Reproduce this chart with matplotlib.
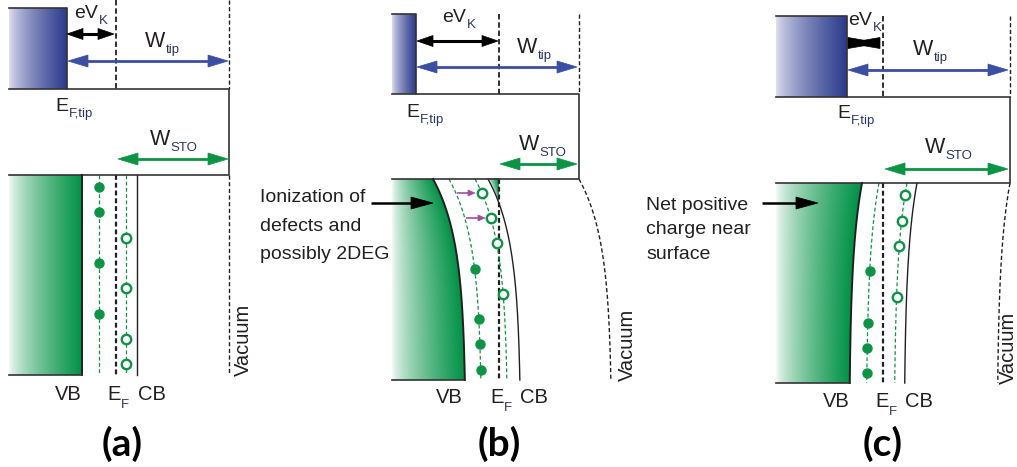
import numpy as np
import matplotlib.pyplot as plt
from matplotlib.patches import Polygon

plt.rcParams['font.family'] = ['Liberation Sans', 'DejaVu Sans']

W, H = 1017, 467

# --- schematic values (pixel units of the drawing) ---
panel_tags = ['(a)', '(b)', '(c)']
bend = [0, -33, 13]            # surface band bending of each panel
bend_len = [60, 60, 70]        # decay length of the bending
filled_y = [[187, 212, 263, 314], [269, 319, 344, 370], [271, 323, 348, 373]]
open_y = [[238, 288, 339, 364], [193, 218, 243, 294], [195, 221, 246, 297]]
side_notes = [None, ['Ionization of', 'defects and', 'possibly 2DEG'],
              ['Net positive', 'charge near', 'surface']]

# --- layout of the three panels ---
geo = [
    dict(x0=9, tip=67, top=8, dtop=0, gtop=89, gbot=175, vac=229, ef=116, bot=375,
         vb=82, fd=99, od=126, cb=137, vacb=229,
         evk=(74, 18), wtip=(145, 47), eft=(55, 111), wsto=(150, 145),
         arr_k=(67, 114, 34), arr_t=(68, 228, 61), arr_s=(118, 228, 159),
         lab_y=400, lab_x=(55, 107, 138), vacx=(243, 376), tag=(122, 444)),
    dict(x0=392, tip=416, top=14, dtop=14, gtop=94, gbot=179, vac=579, ef=499, bot=380,
         vb=466, fd=482, od=508, cb=521, vacb=612,
         evk=(442, 22), wtip=(517, 53), eft=(406, 117), wsto=(519, 150),
         arr_k=(417, 498, 41), arr_t=(417, 577, 67), arr_s=(500, 577, 164),
         lab_y=403, lab_x=(436, 490, 520), vacx=(627, 381), tag=(499, 444),
         note=(260, [202, 231, 259]), note_arr=(371, 433, 203)),
    dict(x0=776, tip=847, top=16, dtop=16, gtop=97, gbot=183, vac=1010, ef=883, bot=383,
         vb=849, fd=866, od=894, cb=904, vacb=997,
         evk=(848, 25), wtip=(913, 55), eft=(837, 118), wsto=(925, 153),
         arr_k=(848, 880, 43), arr_t=(848, 1008, 70), arr_s=(885, 1008, 169),
         lab_y=407, lab_x=(823, 875, 905), vacx=(1008, 384), tag=(883, 444),
         note=(646, [210, 234, 259]), note_arr=(762, 818, 203)),
]

INK = '#231f20'
BLUE = '#3a4ea3'
GREEN = '#0b9444'
TIP_DARK = np.array([43, 58, 140]) / 255
TIP_LIGHT = np.array([228, 228, 242]) / 255
VB_DARK = np.array([0, 146, 69]) / 255
VB_LIGHT = np.array([250, 252, 250]) / 255

fig = plt.figure(figsize=(W / 100, H / 100), dpi=100)
ax = fig.add_axes([0, 0, 1, 1])
ax.set_xlim(0, W)
ax.set_ylim(H, 0)
ax.axis('off')
renderer = fig.canvas.get_renderer()


def band(g, k, bulk, y):
    return bulk + bend[k] * np.exp(-(np.asarray(y, float) - g['gbot']) / bend_len[k])


def gradient(left, right, y0, y1, light, dark, power=0.7):
    # horizontal colour ramp between left(y) and right(y), row by row
    ys = np.arange(y0, y1, 0.5) + 0.25
    xa = min(np.min(left(ys)), np.min(right(ys)))
    xb = max(np.max(left(ys)), np.max(right(ys)))
    xs = np.arange(xa, xb, 0.5) + 0.25
    X, Y = np.meshgrid(xs, ys)
    L, R = left(Y), right(Y)
    t = np.clip((X - L) / np.maximum(R - L, 1e-6), 0, 1) ** power
    img = np.zeros(X.shape + (4,))
    img[..., :3] = light * (1 - t[..., None]) + dark * t[..., None]
    img[..., 3] = ((X >= L) & (X <= R)).astype(float)
    ax.imshow(img, extent=(xa, xb, y1, y0), origin='upper', interpolation='bilinear',
              zorder=1, aspect='auto')


def darrow(x0, x1, y, color, lw=1.9, hl=18, hw=5, both=True):
    # arrow with triangular heads, sizes in drawing pixels
    a = x0 + (hl * 0.8 if both else 0)
    b = x1 - hl * 0.8
    if b > a:
        ax.plot([a, b], [y, y], color=color, lw=lw, solid_capstyle='butt', zorder=5)
    heads = [[(x1, y), (x1 - hl, y - hw), (x1 - hl, y + hw)]]
    if both:
        heads.append([(x0, y), (x0 + hl, y - hw), (x0 + hl, y + hw)])
    for pts in heads:
        ax.add_patch(Polygon(pts, closed=True, facecolor=color, edgecolor=color,
                             lw=0.5, zorder=5))


def sub_label(x, y, main, sub, size=14, subsize=9.5, drop=6):
    t = ax.text(x, y, main, fontsize=size, ha='left', va='baseline', color=INK, zorder=6)
    bb = t.get_window_extent(renderer)
    xe = ax.transData.inverted().transform((bb.x1, bb.y0))[0]
    ax.text(xe + 0.5, y + drop, sub, fontsize=subsize, ha='left', va='baseline',
            color='#2c3560', zorder=6)


for k, g in enumerate(geo):
    ys = np.linspace(g['gbot'], g['bot'], 200)

    # tip block
    gradient(lambda y: np.full_like(y, g['x0']), lambda y: np.full_like(y, g['tip']),
             g['top'], g['gtop'], TIP_LIGHT, TIP_DARK)
    ax.plot([g['x0'], g['tip'], g['tip']], [g['top'], g['top'], g['gtop']],
            color='#333333', lw=1.2, zorder=4)

    # gap box
    ax.plot([g['x0'], g['vac'], g['vac'], g['x0']],
            [g['gtop'], g['gtop'], g['gbot'], g['gbot']], color='#333333', lw=1.2, zorder=4)

    # dashed lines above the gap
    ax.plot([g['ef'], g['ef']], [g['dtop'], g['gtop']], color=INK, lw=1.3,
            ls=(0, (3, 1.6)), zorder=3)
    ax.plot([g['vac'], g['vac']], [g['dtop'], g['gtop']], color=INK, lw=1.0,
            ls=(0, (3, 1.8)), zorder=3)

    # valence band block
    vb_edge = lambda y, g=g, k=k: band(g, k, g['vb'], y)
    gradient(lambda y, g=g: np.full_like(y, g['x0']), vb_edge, g['gbot'], g['bot'],
             VB_LIGHT, VB_DARK)
    ax.plot(vb_edge(ys), ys, color=INK, lw=1.4, zorder=4)
    ax.plot([g['x0'], vb_edge(g['bot'])], [g['bot'], g['bot']], color='#333333', lw=1.2,
            zorder=4)

    # 2DEG pocket where the conduction band dips below E_F
    if bend[k] < 0:
        yy = np.linspace(g['gbot'], g['bot'], 400)
        cross = yy[band(g, k, g['cb'], yy) < g['ef']]
        if cross.size:
            gradient(lambda y, g=g, k=k: band(g, k, g['cb'], y),
                     lambda y, g=g: np.full_like(y, g['ef']),
                     g['gbot'], cross.max(), VB_LIGHT, VB_DARK, power=0.6)

    # Fermi level and conduction band
    ax.plot([g['ef'], g['ef']], [g['gbot'], g['bot']], color=INK, lw=1.6,
            ls=(0, (2.2, 1.3)), zorder=3)
    ax.plot(band(g, k, g['cb'], ys), ys, color=INK, lw=1.0, zorder=3)
    ax.plot(band(g, k, g['vacb'], ys), ys, color=INK, lw=1.0, ls=(0, (3, 1.8)), zorder=3)

    # defect levels: occupied (filled) and ionised (open)
    ax.plot(band(g, k, g['fd'], ys), ys, color=GREEN, lw=0.9, ls=(0, (3, 2)), zorder=3)
    ax.plot(band(g, k, g['od'], ys), ys, color=GREEN, lw=0.9, ls=(0, (3, 2)), zorder=3)
    fy = np.array(filled_y[k])
    oy = np.array(open_y[k])
    ax.plot(band(g, k, g['fd'], fy), fy, 'o', ms=6.5, color=GREEN, mec=GREEN, zorder=5)
    ax.plot(band(g, k, g['od'], oy), oy, 'o', ms=6.8, mfc='white', mec=GREEN, mew=1.7,
            zorder=5)

    # energy arrows; a very short eV_K gives overlapping heads (bow-tie)
    kx0, kx1, ky = g['arr_k']
    span = kx1 - kx0
    darrow(kx0, kx1, ky, color='black', lw=2.2, hl=span if span < 40 else 16, hw=5.5)
    darrow(*g['arr_t'], color=BLUE, lw=2.0, hl=20, hw=6)
    darrow(*g['arr_s'], color=GREEN, lw=2.0, hl=20, hw=6)

    # labels
    sub_label(*g['evk'], 'eV', 'K')
    sub_label(*g['wtip'], 'W', 'tip', size=15.5)
    sub_label(*g['eft'], 'E', 'F,tip')
    sub_label(*g['wsto'], 'W', 'STO', size=15.5)
    lx = g['lab_x']
    ax.text(lx[0], g['lab_y'], 'VB', fontsize=14.5, ha='left', va='baseline', color=INK)
    sub_label(lx[1], g['lab_y'], 'E', 'F', size=14.5, drop=8)
    ax.text(lx[2], g['lab_y'], 'CB', fontsize=14.5, ha='left', va='baseline', color=INK)
    ax.text(*g['vacx'], 'Vacuum', fontsize=14.5, rotation=90, ha='center', va='bottom',
            color=INK)

    if side_notes[k]:
        nx, nys = g['note']
        for line, yb in zip(side_notes[k], nys):
            ax.text(nx, yb, line, fontsize=14, ha='left', va='baseline', color=INK)
        a0, a1, ay = g['note_arr']
        darrow(a0, a1, ay, color='black', lw=1.8, hl=22, hw=6, both=False)

    ax.text(*g['tag'], panel_tags[k], fontsize=28, fontweight='bold', family='Lato',
            ha='center', va='center', color='black')

# electrons leaving ionised defects in (b)
for x0, x1, y in [(457, 475, 193), (466, 485, 218)]:
    darrow(x0, x1, y, color='#a24ea0', lw=1.2, hl=7, hw=3, both=False)

fig.savefig('out.png', dpi=100)
